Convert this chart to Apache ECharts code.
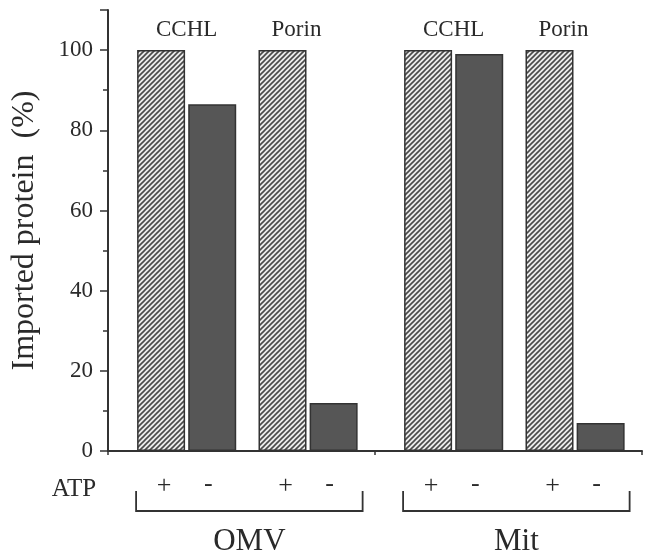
<!DOCTYPE html>
<html>
<head>
<meta charset="utf-8">
<script src="https://cdn.jsdelivr.net/npm/echarts@6/dist/echarts.min.js"></script>
<style>
html,body{margin:0;padding:0;background:#fff;}
#chart{width:647px;height:558px;}
</style>
</head>
<body>
<div id="chart"></div>
<script>
// ---- data ----
var groups = ['OMV', 'Mit'];
var cchlPlus  = [100, 100];
var cchlMinus = [86.5, 99];
var porinPlus = [100, 100];
var porinMinus = [12, 7];
var proteinNames = ['CCHL', 'Porin'];
var atpMarks = ['+', '-'];
var yTicks = [0, 20, 40, 60, 80, 100];
var yTitle = 'Imported protein  (%)';
var atpLabel = 'ATP';

var FONT = '"Liberation Serif", "Times New Roman", serif';
var INK = '#2a2a2a';

// hatch pattern
function makeHatch() {
  var c = document.createElement('canvas');
  var s = 5;
  c.width = s; c.height = s;
  var g = c.getContext('2d');
  g.fillStyle = '#ececec';
  g.fillRect(0, 0, s, s);
  g.strokeStyle = '#4a4a4a';
  g.lineWidth = 1.6;
  g.beginPath();
  g.moveTo(-1, s + 1); g.lineTo(s + 1, -1);
  g.moveTo(-1, 1); g.lineTo(1, -1);
  g.moveTo(s - 1, s + 1); g.lineTo(s + 1, s - 1);
  g.stroke();
  return c;
}
var hatch = makeHatch();

var chart = echarts.init(document.getElementById('chart'), null, {renderer: 'canvas'});

var BW = 48;
var GAP = '6.5%';
var hatchStyle = {color: {image: hatch, repeat: 'repeat'}, borderColor: '#333', borderWidth: 1.5};
var darkStyle = {color: '#565656', borderColor: '#333', borderWidth: 1.5};

function spacer(w) {
  return {type: 'bar', data: groups.map(function(){ return null; }), barWidth: w, barGap: GAP, silent: true, itemStyle: {color: 'transparent'}};
}

var option = {
  animation: false,
  backgroundColor: '#fff',
  grid: {left: 108, right: 5, top: 10, bottom: 107},
  xAxis: {
    type: 'category',
    data: groups,
    axisLine: {lineStyle: {color: '#333', width: 2}},
    axisTick: {show: true, length: 4, lineStyle: {color: '#333', width: 1.5}},
    axisLabel: {show: false}
  },
  yAxis: [{
    type: 'value',
    min: 0, max: 110, interval: 10,
    name: yTitle,
    nameLocation: 'middle',
    nameGap: 67,
    nameTextStyle: {fontFamily: FONT, fontSize: 32, color: INK},
    axisLine: {show: true, lineStyle: {color: '#333', width: 2}},
    axisTick: {show: true, length: 5, lineStyle: {color: '#333', width: 1.5}},
    splitLine: {show: false},
    axisLabel: {
      fontFamily: FONT, fontSize: 23, color: INK, margin: 15,
      formatter: function (v) { return yTicks.indexOf(v) >= 0 ? String(v) : ''; }
    }
  }, {
    type: 'value',
    position: 'left',
    min: 0, max: 110, interval: 20,
    axisLine: {show: false},
    axisTick: {show: true, length: 8, lineStyle: {color: '#333', width: 1.5}},
    axisLabel: {show: false},
    splitLine: {show: false}
  }],
  series: [
    spacer(11),
    {type: 'bar', name: 'CCHL +', data: cchlPlus, barWidth: BW, barGap: GAP, itemStyle: hatchStyle},
    {type: 'bar', name: 'CCHL -', data: cchlMinus, barWidth: BW, barGap: GAP, itemStyle: darkStyle},
    spacer(18),
    {type: 'bar', name: 'Porin +', data: porinPlus, barWidth: BW, barGap: GAP, itemStyle: hatchStyle},
    {type: 'bar', name: 'Porin -', data: porinMinus, barWidth: BW, barGap: GAP, itemStyle: darkStyle}
  ]
};
chart.setOption(option);

// annotations positioned from the rendered bar layouts
function lay(si, j) { return chart.getModel().getSeriesByIndex(si).getData().getItemLayout(j); }
var graphics = [];
function txt(t, x, y, size) {
  graphics.push({type: 'text', silent: true, style: {text: t, x: x, y: y, align: 'center', verticalAlign: 'middle', fontFamily: FONT, fontSize: size, fill: INK}});
}
var barSeries = [[1, 2], [4, 5]];
var yAxisPx = chart.convertToPixel({gridIndex: 0}, [0, 0])[1];
groups.forEach(function (gname, j) {
  barSeries.forEach(function (pair, p) {
    var a = lay(pair[0], j), b = lay(pair[1], j);
    var ca = a.x + a.width / 2, cb = b.x + b.width / 2;
    var topPx = chart.convertToPixel({gridIndex: 0}, [0, cchlPlus[j]])[1];
    var off = p === 0 ? (cb - ca) / 2 : 14;
    txt(proteinNames[p], ca + off, topPx - 20, 23);
    txt(atpMarks[0], ca + 3, yAxisPx + 35, 26);
    txt(atpMarks[1], cb - 4, yAxisPx + 33, 26);
  });
  var first = lay(1, j), last = lay(5, j);
  var L = first.x - 1, R = last.x + last.width + 5;
  var top = yAxisPx + 40, bot = yAxisPx + 60;
  graphics.push({type: 'polyline', silent: true, shape: {points: [[L, top], [L, bot], [R, bot], [R, top]]}, style: {stroke: '#333', lineWidth: 1.8, fill: null}});
  txt(gname, (L + R) / 2, yAxisPx + 91, 31);
});
txt(atpLabel, 74, yAxisPx + 38, 25);
chart.setOption({graphic: graphics});
</script>
</body>
</html>
